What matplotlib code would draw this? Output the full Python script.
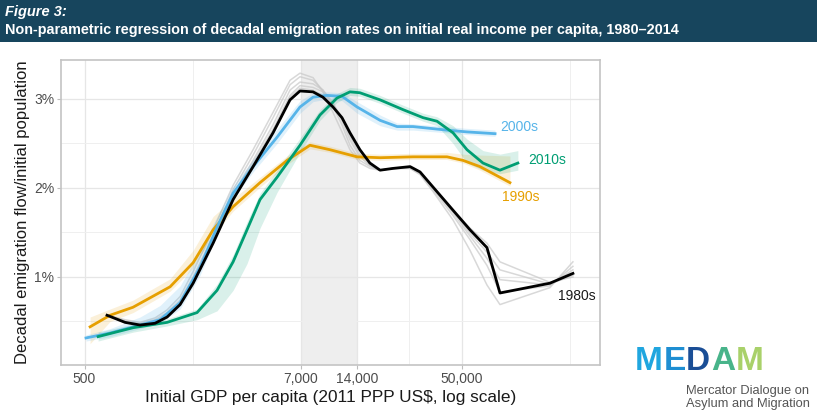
import matplotlib
matplotlib.use("Agg")
import matplotlib.pyplot as plt
from matplotlib import font_manager
from matplotlib.patches import Rectangle

names = {f.name for f in font_manager.fontManager.ttflist}
BASE = 'Liberation Sans' if 'Liberation Sans' in names else 'DejaVu Sans'
NARROW = 'Liberation Sans Narrow' if 'Liberation Sans Narrow' in names else BASE
plt.rcParams['font.family'] = [BASE, 'DejaVu Sans']

# ---------------- data (GDP per capita, emigration rate in %) ----------------
x_1980s = [658, 820, 985, 1183, 1371, 1607, 1884, 2405, 3070, 3919, 5002, 6154, 6951,
           8150, 9200, 10400, 11610, 12800, 14450, 16330, 18490, 21670, 26680, 30130,
           35320, 45080, 55460, 68230, 79980, 147200, 195000]
y_1980s = [0.57, 0.49, 0.46, 0.48, 0.55, 0.69, 0.93, 1.38, 1.87, 2.24, 2.62, 2.99, 3.09,
           3.08, 3.02, 2.91, 2.79, 2.62, 2.43, 2.28, 2.20, 2.22, 2.24, 2.18,
           2.01, 1.75, 1.53, 1.33, 0.82, 0.93, 1.04]
# lighter alternative estimates for the 1980s (same x positions)
gray_1 = [0.57, 0.52, 0.49, 0.54, 0.63, 0.78, 1.06, 1.53, 2.03, 2.43, 2.85, 3.21, 3.29,
          3.24, 3.08, 2.85, 2.63, 2.43, 2.28, 2.22, 2.20, 2.22, 2.22, 2.15,
          1.96, 1.64, 1.30, 0.91, 0.69, 0.88, 1.17]
gray_2 = [0.57, 0.51, 0.48, 0.52, 0.60, 0.74, 1.00, 1.46, 1.98, 2.37, 2.79, 3.16, 3.25,
          3.21, 3.10, 2.92, 2.71, 2.48, 2.31, 2.24, 2.20, 2.22, 2.22, 2.16,
          1.98, 1.69, 1.42, 1.13, 0.83, 0.90, 1.12]
gray_3 = [0.57, 0.50, 0.47, 0.50, 0.58, 0.72, 0.97, 1.43, 1.93, 2.31, 2.71, 3.10, 3.19,
          3.17, 3.10, 2.96, 2.76, 2.54, 2.35, 2.25, 2.20, 2.22, 2.23, 2.17,
          2.00, 1.72, 1.46, 1.21, 0.97, 0.91, 1.08]
gray_4 = [0.57, 0.49, 0.46, 0.49, 0.56, 0.70, 0.95, 1.40, 1.90, 2.28, 2.66, 3.04, 3.15,
          3.13, 3.08, 2.94, 2.79, 2.58, 2.38, 2.26, 2.20, 2.22, 2.23, 2.18,
          2.01, 1.74, 1.49, 1.28, 1.08, 0.92, 1.02]
gray_5 = [0.57, 0.49, 0.46, 0.48, 0.55, 0.69, 0.93, 1.38, 1.87, 2.24, 2.64, 3.02, 3.12,
          3.10, 3.04, 2.92, 2.79, 2.62, 2.43, 2.28, 2.20, 2.22, 2.24, 2.18,
          2.01, 1.75, 1.55, 1.38, 1.17, 0.94, 1.00]

x_1990s = [535, 683, 904, 1422, 1884, 2405, 3070, 4267, 5933, 7850, 10020, 13960, 18490,
           27670, 34040, 41890, 50930, 62660, 90360]
y_1990s = [0.44, 0.57, 0.66, 0.89, 1.16, 1.53, 1.79, 2.06, 2.31, 2.48, 2.43, 2.35, 2.34,
           2.35, 2.35, 2.35, 2.31, 2.24, 2.06]
lo_1990s = [0.25, 0.50, 0.60, 0.84, 1.10, 1.47, 1.74, 2.01, 2.26, 2.44, 2.40, 2.32, 2.31,
            2.32, 2.32, 2.32, 2.28, 2.20, 2.02]
hi_1990s = [0.55, 0.64, 0.74, 0.98, 1.30, 1.68, 1.88, 2.12, 2.36, 2.52, 2.47, 2.39, 2.38,
            2.39, 2.39, 2.40, 2.38, 2.37, 2.36]

x_2000s = [509, 683, 985, 1258, 1607, 2052, 2524, 3070, 3919, 5250, 6951, 8150, 9660,
           11610, 13960, 18490, 22750, 27670, 41890, 53460, 75340]
y_2000s = [0.315, 0.37, 0.46, 0.52, 0.71, 1.11, 1.56, 1.94, 2.24, 2.57, 2.91, 3.02, 3.04,
           3.03, 2.91, 2.76, 2.69, 2.69, 2.65, 2.63, 2.61]
lo_2000s = [0.28, 0.33, 0.42, 0.48, 0.64, 1.02, 1.48, 1.88, 2.18, 2.50, 2.84, 2.97, 3.00,
            2.98, 2.84, 2.70, 2.65, 2.65, 2.62, 2.60, 2.58]
hi_2000s = [0.35, 0.42, 0.55, 0.68, 0.90, 1.30, 1.68, 2.02, 2.32, 2.66, 2.98, 3.07, 3.08,
            3.07, 2.97, 2.82, 2.73, 2.72, 2.69, 2.67, 2.65]

x_2010s = [590, 904, 1371, 1977, 2524, 3070, 3639, 4267, 5250, 6951, 8873, 10920, 12800,
           14450, 18490, 24490, 31260, 37070, 45080, 53460, 65010, 79980, 99540]
y_2010s = [0.33, 0.43, 0.49, 0.60, 0.85, 1.17, 1.53, 1.87, 2.12, 2.48, 2.82, 3.01, 3.08,
           3.07, 2.99, 2.88, 2.79, 2.75, 2.62, 2.43, 2.28, 2.20, 2.28]
lo_2010s = [0.28, 0.38, 0.45, 0.52, 0.62, 0.85, 1.15, 1.55, 1.95, 2.40, 2.76, 2.96, 3.04,
            3.03, 2.95, 2.84, 2.75, 2.70, 2.50, 2.28, 2.20, 2.16, 2.20]
hi_2010s = [0.38, 0.47, 0.53, 0.64, 0.92, 1.25, 1.62, 1.94, 2.20, 2.56, 2.88, 3.06, 3.13,
            3.12, 3.04, 2.93, 2.84, 2.80, 2.70, 2.55, 2.42, 2.38, 2.42]

x_major = [500, 7000, 14000, 50000]
x_labels = ['500', '7,000', '14,000', '50,000']
x_minor = [1871, 9899, 26458, 189000]
y_major = [1, 2, 3]
y_labels = ['1%', '2%', '3%']
y_minor = [0.5, 1.5, 2.5]
band_lo, band_hi = 7000, 14000

C80, C90, C00, C10 = '#000000', '#E69F00', '#56B4E9', '#009E73'

# ---------------- figure ----------------
W, H = 817, 417
fig = plt.figure(figsize=(W / 100, H / 100), dpi=100)
fig.patch.set_facecolor('white')

fig.patches.append(Rectangle((0, 1 - 42 / H), 1, 42 / H, transform=fig.transFigure,
                             facecolor='#17455d', edgecolor='none', zorder=0))
fig.text(5 / W, 1 - 12 / H, 'Figure 3:', color='white', fontsize=10.5, fontweight='bold',
         fontstyle='italic', family=NARROW, va='center', ha='left')
fig.text(5 / W, 1 - 30 / H,
         'Non-parametric regression of decadal emigration rates on initial real income per capita, 1980\u20132014',
         color='white', fontsize=10.4, fontweight='bold', family=NARROW, va='center', ha='left')

ax = fig.add_axes([61 / W, (H - 365) / H, 539 / W, 305 / H])
ax.set_xscale('log')
ax.set_xlim(375, 271500)
ax.set_ylim(0.011, 3.438)

ax.set_xticks(x_major)
ax.set_xticklabels(x_labels)
ax.set_xticks(x_minor, minor=True)
ax.set_xticklabels([], minor=True)
ax.set_yticks(y_major)
ax.set_yticklabels(y_labels)
ax.set_yticks(y_minor, minor=True)
ax.grid(True, which='major', color='#e6e6e6', lw=0.9, zorder=0)
ax.grid(True, which='minor', color='#efefef', lw=0.7, zorder=0)
ax.set_axisbelow(True)
ax.tick_params(which='major', length=3, width=0.8, color='#bdbdbd', labelsize=10,
               labelcolor='#4d4d4d', pad=2)
ax.tick_params(which='minor', length=0)
for s in ax.spines.values():
    s.set_color('#c4c4c4')
    s.set_linewidth(1.2)

ax.axvspan(band_lo, band_hi, color='#d6d6d6', alpha=0.4, lw=0, zorder=0.5)

for g in (gray_1, gray_2, gray_3, gray_4, gray_5):
    ax.plot(x_1980s, g, color='#c8c8c8', lw=1.1, alpha=0.7, zorder=1)

ax.fill_between(x_1990s, lo_1990s, hi_1990s, color=C90, alpha=0.15, lw=0, zorder=1)
ax.fill_between(x_2000s, lo_2000s, hi_2000s, color=C00, alpha=0.18, lw=0, zorder=1)
ax.fill_between(x_2010s, lo_2010s, hi_2010s, color=C10, alpha=0.15, lw=0, zorder=1)

ax.plot(x_1990s, y_1990s, color=C90, lw=2.0, zorder=3)
ax.plot(x_2000s, y_2000s, color=C00, lw=2.0, zorder=3)
ax.plot(x_2010s, y_2010s, color=C10, lw=2.0, zorder=3)
ax.plot(x_1980s, y_1980s, color=C80, lw=2.0, zorder=4)

lab_kw = dict(fontsize=10, va='center', ha='left', zorder=5)
ax.text(80000, 2.69, '2000s', color=C00, **lab_kw)
ax.text(112700, 2.31, '2010s', color=C10, **lab_kw)
ax.text(82000, 1.90, '1990s', color=C90, **lab_kw)
ax.text(162600, 0.79, '1980s', color='#1a1a1a', **lab_kw)

ax.set_xlabel('Initial GDP per capita (2011 PPP US$, log scale)', fontsize=12.4,
              color='#1a1a1a', labelpad=3)
ax.set_ylabel('Decadal emigration flow/initial population', fontsize=12,
              color='#1a1a1a', labelpad=3)

# ---------------- logo ----------------
logo_letters = ['M', 'E', 'D', 'A', 'M']
logo_colors = ['#20a6df', '#1e8ed2', '#1a4e96', '#48b48a', '#a9d16a']
fig.canvas.draw()
renderer = fig.canvas.get_renderer()
cur_x = 635
for ch, col in zip(logo_letters, logo_colors):
    t = fig.text(cur_x / W, 1 - 361 / H, ch, color=col, fontsize=24, fontweight='bold',
                 ha='left', va='center')
    bb = t.get_window_extent(renderer=renderer)
    cur_x = bb.x1 + 0.5
fig.text(686 / W, 1 - 391 / H, 'Mercator Dialogue on', color='#555555', fontsize=9.3,
         ha='left', va='center')
fig.text(686 / W, 1 - 404 / H, 'Asylum and Migration', color='#555555', fontsize=9.3,
         ha='left', va='center')

fig.savefig('out.png', dpi=100)
